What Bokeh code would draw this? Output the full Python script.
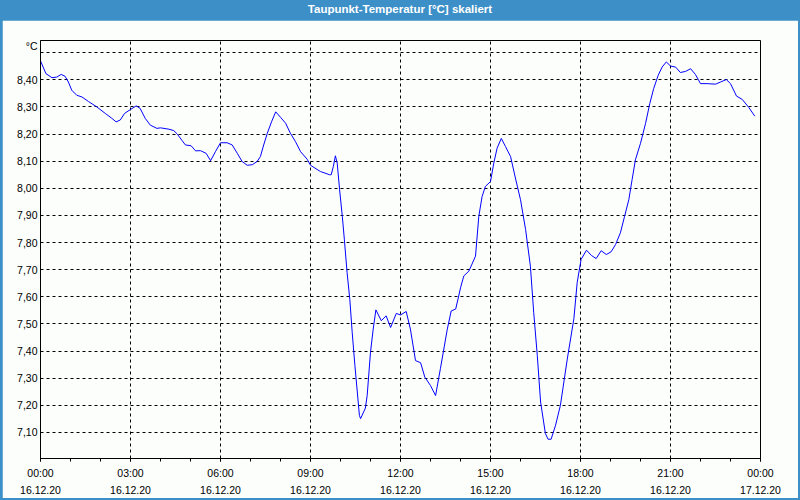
from bokeh.plotting import figure
from bokeh.models import FixedTicker, Div, ColumnDataSource
from bokeh.layouts import column
from bokeh.embed import file_html
from bokeh.resources import INLINE

# time of day in hours (16.12.20 00:00 = 0)
hours = [0.0, 0.18, 0.38, 0.54, 0.69, 0.82, 0.93, 1.04, 1.21, 1.38, 1.6, 1.88, 2.16, 2.38, 2.52,
         2.66, 2.8, 2.99, 3.19, 3.32, 3.49, 3.66, 3.88, 4.0, 4.28, 4.44, 4.56, 4.72, 4.83, 5.02,
         5.17, 5.33, 5.52, 5.67, 5.83, 6.0, 6.22, 6.39, 6.56, 6.72, 6.89, 7.06, 7.22, 7.33, 7.44,
         7.56, 7.7, 7.84, 8.0, 8.17, 8.33, 8.5, 8.67, 8.89, 9.0, 9.33, 9.64, 9.69, 9.76, 9.83,
         9.89, 9.97, 10.06, 10.13, 10.22, 10.31, 10.39, 10.48, 10.56, 10.63, 10.67, 10.83, 10.89,
         11.0, 11.09, 11.18, 11.36, 11.52, 11.67, 11.86, 12.0, 12.19, 12.33, 12.5, 12.67, 12.81,
         13.0, 13.17, 13.33, 13.56, 13.69, 13.84, 13.94, 14.0, 14.11, 14.28, 14.5, 14.61, 14.72,
         14.83, 15.0, 15.11, 15.22, 15.36, 15.5, 15.67, 15.83, 16.0, 16.17, 16.33, 16.44, 16.56,
         16.67, 16.83, 16.92, 17.02, 17.17, 17.33, 17.56, 17.78, 17.89, 18.02, 18.2, 18.36, 18.52,
         18.69, 18.86, 19.02, 19.17, 19.33, 19.47, 19.61, 19.72, 19.83, 20.0, 20.17, 20.31, 20.44,
         20.59, 20.72, 20.86, 21.0, 21.17, 21.33, 21.5, 21.67, 21.83, 22.0, 22.22, 22.5, 22.67,
         22.86, 23.0, 23.2, 23.39, 23.61, 23.81]

dew_point = [8.47, 8.423, 8.408, 8.41, 8.42, 8.413, 8.392, 8.362, 8.343, 8.337, 8.32, 8.30, 8.276, 8.258, 8.245,
             8.252, 8.276, 8.29, 8.304, 8.295, 8.258, 8.233, 8.221, 8.223, 8.218, 8.213, 8.20, 8.176, 8.16, 8.157,
             8.138, 8.139, 8.129, 8.102, 8.135, 8.168, 8.168, 8.16, 8.129, 8.099, 8.085, 8.087, 8.099, 8.117, 8.16,
             8.203, 8.245, 8.282, 8.262, 8.24, 8.203, 8.172, 8.135, 8.107, 8.085, 8.062, 8.05, 8.05, 8.08, 8.12,
             8.093, 7.995, 7.897, 7.81, 7.689, 7.591, 7.469, 7.347, 7.249, 7.163, 7.151, 7.19, 7.237,
             7.396, 7.481, 7.552, 7.512, 7.53, 7.487, 7.539, 7.533, 7.546, 7.481, 7.365, 7.357, 7.304,
             7.273, 7.236, 7.335, 7.481, 7.548, 7.555, 7.603, 7.633, 7.677, 7.695, 7.75, 7.897, 7.97,
             8.007, 8.025, 8.093, 8.148, 8.184, 8.154, 8.117, 8.038, 7.958, 7.848, 7.713, 7.543, 7.383,
             7.212, 7.096, 7.075, 7.075, 7.127, 7.20, 7.371, 7.52, 7.653, 7.738, 7.772, 7.753, 7.741,
             7.77, 7.756, 7.766, 7.793, 7.836, 7.897, 7.958, 8.032, 8.105, 8.166, 8.24, 8.313, 8.368,
             8.417, 8.447, 8.466, 8.451, 8.447, 8.427, 8.431, 8.441, 8.42, 8.386, 8.386, 8.384, 8.392,
             8.401, 8.386, 8.34, 8.328, 8.298, 8.266]

x_ticks = [0, 3, 6, 9, 12, 15, 18, 21, 24]
x_minor_ticks = list(range(25))
x_tick_labels = ["00:00\n16.12.20", "03:00\n16.12.20", "06:00\n16.12.20", "09:00\n16.12.20",
                 "12:00\n16.12.20", "15:00\n16.12.20", "18:00\n16.12.20", "21:00\n16.12.20",
                 "00:00\n17.12.20"]
y_grid_ticks = [7.1, 7.2, 7.3, 7.4, 7.5, 7.6, 7.7, 7.8, 7.9, 8.0, 8.1, 8.2, 8.3, 8.4, 8.5]
y_label_ticks = [7.1, 7.2, 7.3, 7.4, 7.5, 7.6, 7.7, 7.8, 7.9, 8.0, 8.1, 8.2, 8.3, 8.4, 8.526]
y_tick_labels = ["7,10", "7,20", "7,30", "7,40", "7,50", "7,60", "7,70", "7,80", "7,90",
                 "8,00", "8,10", "8,20", "8,30", "8,40", "°C"]
title_text = "Taupunkt-Temperatur [°C] skaliert"

BLUE = "#3d8fc7"
BG = "#fcfefc"
FONT = "Liberation Sans"

title = Div(text=title_text, width=796, height=20,
            styles={"background-color": BLUE, "color": "white", "text-align": "center",
                    "font-family": FONT, "font-size": "11.5px", "font-weight": "bold",
                    "line-height": "19px", "overflow": "hidden", "margin": "0px",
                    "padding": "0px", "height": "20px"})

p = figure(width=796, height=478, x_range=(0, 24), y_range=(7.004, 8.545),
           output_backend="svg", toolbar_location=None, title_location=None,
           min_border_left=38, min_border_right=38, min_border_top=20, min_border_bottom=38,
           background_fill_color=BG, border_fill_color=BG)

src = ColumnDataSource(dict(h=hours, v=dew_point))
p.line("h", "v", source=src, line_color="#0000ff", line_width=1)

p.outline_line_color = "black"
p.outline_line_width = 1

xa = p.xaxis[0]
xa.ticker = FixedTicker(ticks=x_ticks, minor_ticks=x_minor_ticks)
xa.major_label_overrides = {t: l for t, l in zip(x_ticks, x_tick_labels)}
xa.axis_line_color = "black"
xa.major_tick_line_color = "black"
xa.minor_tick_line_color = "black"
xa.major_tick_in = 0
xa.major_tick_out = 3
xa.minor_tick_in = 0
xa.minor_tick_out = 3
xa.major_label_standoff = 5
xa.major_label_text_font = FONT
xa.major_label_text_font_size = "10.5px"
xa.major_label_text_color = "black"
xa.major_label_text_line_height = 1.45

ya = p.yaxis[0]
ya.ticker = FixedTicker(ticks=y_label_ticks)
ya.major_label_overrides = {t: l for t, l in zip(y_label_ticks, y_tick_labels)}
ya.axis_line_color = "black"
ya.major_tick_line_color = None
ya.minor_tick_line_color = None
ya.major_tick_in = 0
ya.major_tick_out = 0
ya.major_label_standoff = 3
ya.major_label_text_font = FONT
ya.major_label_text_font_size = "10.5px"
ya.major_label_text_color = "black"

p.xgrid.ticker = FixedTicker(ticks=x_ticks)
p.ygrid.ticker = FixedTicker(ticks=y_grid_ticks)
for g in (p.xgrid[0], p.ygrid[0]):
    g.grid_line_color = "black"
    g.grid_line_dash = "3 3"
    g.grid_line_width = 1
    g.grid_line_alpha = 1.0

layout = column(title, p, spacing=0,
                styles={"background-color": BLUE, "padding": "0px 2px 2px 2px"})

open("out.html", "w").write(file_html(layout, INLINE))
